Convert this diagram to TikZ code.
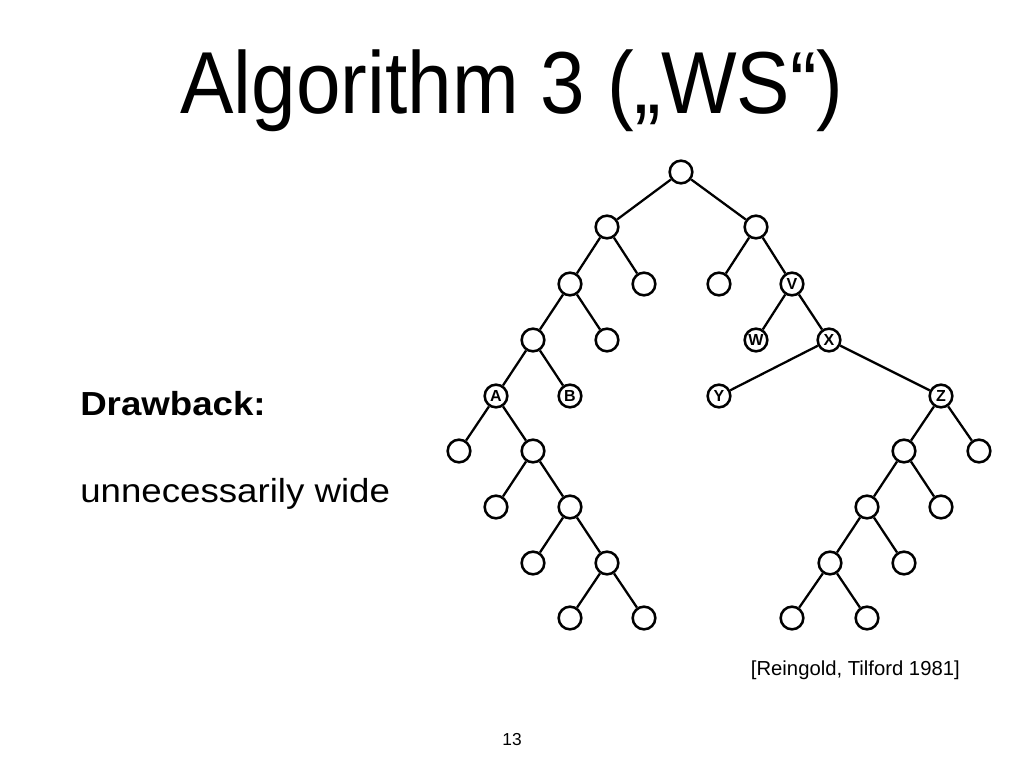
\documentclass[tikz,border=0pt]{standalone}
\usepackage{fontspec}
\setmainfont{Liberation Sans}
\begin{document}
\begin{tikzpicture}[x=0.75pt,y=-0.75pt,
  tn/.style={circle,draw,line width=1.9pt,minimum size=17pt,inner sep=0pt,font=\fontsize{12}{12}\selectfont\bfseries},
  ed/.style={line width=1.7pt},
  txt/.style={inner sep=0pt,anchor=base west}]
\useasboundingbox (0,0) rectangle (1024,768);
% title and texts
\node[inner sep=0pt,anchor=base] (title) at (512,113) {\scalebox{0.91}[1]{\fontsize{66}{66}\selectfont Algorithm 3 („WS“)}};
\node[txt] (draw) at (80,415) {\scalebox{1.1}[1]{\fontsize{25}{25}\selectfont\bfseries Drawback:}};
\node[txt] (wide) at (80,502) {\scalebox{1.1}[1]{\fontsize{25}{25}\selectfont unnecessarily wide}};
\node[inner sep=0pt,anchor=base east] (ref) at (960,675) {\fontsize{15.2}{15.2}\selectfont [Reingold, Tilford 1981]};
\node[inner sep=0pt,anchor=base] (pg) at (512,745) {\fontsize{13}{13}\selectfont 13};
% tree nodes
\node[tn] (r) at (681,172) {};
\node[tn] (l1a) at (607,227) {};
\node[tn] (l1b) at (756,227) {};
\node[tn] (l2a) at (570,284) {};
\node[tn] (l2b) at (644,284) {};
\node[tn] (l2c) at (719,284) {};
\node[tn] (V) at (792,284) {V};
\node[tn] (l3a) at (533,340) {};
\node[tn] (l3b) at (607,340) {};
\node[tn] (W) at (756,340) {W};
\node[tn] (X) at (829,340) {X};
\node[tn] (A) at (496,396) {A};
\node[tn] (B) at (570,396) {B};
\node[tn] (Y) at (719,396) {Y};
\node[tn] (Z) at (941,396) {Z};
\node[tn] (l5a) at (459,451) {};
\node[tn] (l5b) at (533,451) {};
\node[tn] (l5c) at (904,451) {};
\node[tn] (l5d) at (979,451) {};
\node[tn] (l6a) at (496,507) {};
\node[tn] (l6b) at (570,507) {};
\node[tn] (l6c) at (867,507) {};
\node[tn] (l6d) at (941,507) {};
\node[tn] (l7a) at (533,563) {};
\node[tn] (l7b) at (607,563) {};
\node[tn] (l7c) at (830,563) {};
\node[tn] (l7d) at (904,563) {};
\node[tn] (l8a) at (570,618) {};
\node[tn] (l8b) at (644,618) {};
\node[tn] (l8c) at (792,618) {};
\node[tn] (l8d) at (867,618) {};
% edges
\draw[ed] (r) -- (l1a); \draw[ed] (r) -- (l1b);
\draw[ed] (l1a) -- (l2a); \draw[ed] (l1a) -- (l2b);
\draw[ed] (l1b) -- (l2c); \draw[ed] (l1b) -- (V);
\draw[ed] (l2a) -- (l3a); \draw[ed] (l2a) -- (l3b);
\draw[ed] (V) -- (W); \draw[ed] (V) -- (X);
\draw[ed] (l3a) -- (A); \draw[ed] (l3a) -- (B);
\draw[ed] (X) -- (Y); \draw[ed] (X) -- (Z);
\draw[ed] (A) -- (l5a); \draw[ed] (A) -- (l5b);
\draw[ed] (l5b) -- (l6a); \draw[ed] (l5b) -- (l6b);
\draw[ed] (l6b) -- (l7a); \draw[ed] (l6b) -- (l7b);
\draw[ed] (l7b) -- (l8a); \draw[ed] (l7b) -- (l8b);
\draw[ed] (Z) -- (l5c); \draw[ed] (Z) -- (l5d);
\draw[ed] (l5c) -- (l6c); \draw[ed] (l5c) -- (l6d);
\draw[ed] (l6c) -- (l7c); \draw[ed] (l6c) -- (l7d);
\draw[ed] (l7c) -- (l8c); \draw[ed] (l7c) -- (l8d);
\end{tikzpicture}
\end{document}
